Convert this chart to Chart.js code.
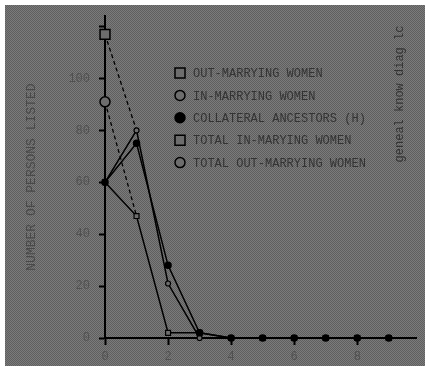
<!DOCTYPE html>
<html>
<head>
<meta charset="utf-8">
<script src="https://cdn.jsdelivr.net/npm/chart.js@4/dist/chart.umd.min.js"></script>
<style>
  html, body { margin: 0; padding: 0; background: #fff; }
  #wrap { position: relative; width: 425px; height: 366px; }
</style>
</head>
<body>
<div id="wrap"><canvas id="chart"></canvas></div>
<script>
// generations (x) and number of persons listed (y)
const generations = [0, 1, 2, 3, 4, 5, 6, 7, 8, 9];
const outMarrying = [60, 47, 2, 2, 0, 0, 0, 0, 0, 0];
const inMarrying  = [60, 80, 21, 0, 0, 0, 0, 0, 0, 0];
const collateral  = [60, 75, 28, 2, 0, 0, 0, 0, 0, 0];
const totalGenerations = [0, 1];
const totalInMarrying  = [117, 80];
const totalOutMarrying = [91, 47];
const yTickValues = [0, 20, 40, 60, 80, 100, 120];
const yTickLabels = ['0', '20', '40', '60', '80', '100', ''];
const xTickValues = [0, 2, 4, 6, 8];
const seriesNames = ['OUT-MARRYING WOMEN', 'IN-MARRYING WOMEN', 'COLLATERAL ANCESTORS (H)',
                     'TOTAL IN-MARYING WOMEN', 'TOTAL OUT-MARRYING WOMEN'];
const sideNote = 'geneal know diag lc';

const MONO = '"Liberation Mono", "DejaVu Sans Mono", monospace';
const FILL_GRAY = '#6d6d6d';

function toPoints(xs, ys) {
    return xs.map((x, i) => ({ x: x, y: ys[i] }));
}

function ditherPattern(ctx) {
    const c = document.createElement('canvas');
    c.width = 2; c.height = 2;
    const p = c.getContext('2d');
    p.fillStyle = '#7b7b7b'; p.fillRect(0, 0, 2, 2);
    p.fillStyle = '#5f5f5f'; p.fillRect(0, 0, 1, 1); p.fillRect(1, 1, 1, 1);
    return ctx.createPattern(c, 'repeat');
}

const backdrop = {
    id: 'backdrop',
    beforeDraw(chart) {
        const ctx = chart.ctx;
        ctx.save();
        ctx.fillStyle = '#ffffff';
        ctx.fillRect(0, 0, chart.width, chart.height);
        ctx.fillStyle = ditherPattern(ctx);
        ctx.fillRect(5, 5, chart.width - 5, chart.height - 5);
        ctx.restore();
    }
};

function marker(ctx, style, filled, x, y, r) {
    ctx.beginPath();
    if (style === 'rect') ctx.rect(x - r, y - r, 2 * r, 2 * r);
    else ctx.arc(x, y, r, 0, Math.PI * 2);
    ctx.fillStyle = filled ? '#000' : FILL_GRAY;
    ctx.fill();
    ctx.lineWidth = 1.5;
    ctx.strokeStyle = '#000';
    ctx.stroke();
}

const inlineLegend = {
    id: 'inlineLegend',
    afterDraw(chart) {
        const ctx = chart.ctx;
        const styles = [['rect', false], ['circle', false], ['circle', true], ['rect', false], ['circle', false]];
        ctx.save();
        ctx.font = '12px ' + MONO;
        ctx.textBaseline = 'middle';
        seriesNames.forEach((name, i) => {
            const y = 73 + i * 22.4;
            marker(ctx, styles[i][0], styles[i][1], 180, y, 5);
            ctx.fillStyle = '#333333';
            ctx.fillText(name, 193, y + 1);
        });
        // side note, rotated
        ctx.fillStyle = '#333333';
        ctx.translate(400, 94);
        ctx.rotate(-Math.PI / 2);
        ctx.textAlign = 'center';
        ctx.fillText(sideNote, 0, 0);
        ctx.restore();
    }
};

const ctx = document.getElementById('chart').getContext('2d');
new Chart(ctx, {
    type: 'line',
    data: {
        datasets: [
            {
                label: seriesNames[0],
                data: toPoints(generations, outMarrying),
                borderColor: '#000', borderWidth: 1.5,
                pointStyle: 'rect', pointRadius: 3.5,
                pointBackgroundColor: FILL_GRAY, pointBorderColor: '#000', pointBorderWidth: 1.2,
                clip: false, order: 2
            },
            {
                label: seriesNames[1],
                data: toPoints(generations, inMarrying),
                borderColor: '#000', borderWidth: 1.5,
                pointStyle: 'circle', pointRadius: 2.5,
                pointBackgroundColor: FILL_GRAY, pointBorderColor: '#000', pointBorderWidth: 1.2,
                clip: false, order: 3
            },
            {
                label: seriesNames[2],
                data: toPoints(generations, collateral),
                borderColor: '#000', borderWidth: 1.5,
                pointStyle: 'circle', pointRadius: 3,
                pointBackgroundColor: '#000', pointBorderColor: '#000',
                clip: false, order: 1
            },
            {
                label: seriesNames[3],
                data: toPoints(totalGenerations, totalInMarrying),
                borderColor: '#000', borderWidth: 1.3, borderDash: [4, 3],
                pointStyle: 'rect', pointRadius: [7, 0],
                pointBackgroundColor: FILL_GRAY, pointBorderColor: '#000', pointBorderWidth: 1.5,
                clip: false, order: 4
            },
            {
                label: seriesNames[4],
                data: toPoints(totalGenerations, totalOutMarrying),
                borderColor: '#000', borderWidth: 1.3, borderDash: [4, 3],
                pointStyle: 'circle', pointRadius: [5, 0],
                pointBackgroundColor: FILL_GRAY, pointBorderColor: '#000', pointBorderWidth: 1.5,
                clip: false, order: 5
            }
        ]
    },
    options: {
        responsive: true,
        maintainAspectRatio: false,
        animation: false,
        layout: { padding: { top: 7, left: 0, right: 0, bottom: 0 } },
        scales: {
            x: {
                type: 'linear',
                min: 0, max: 9.88,
                afterBuildTicks: (scale) => { scale.ticks = xTickValues.map(v => ({ value: v })); },
                afterFit: (scale) => { scale.height = 28; },
                ticks: {
                    color: '#505050', font: { family: MONO, size: 12 }, padding: 5,
                    maxRotation: 0, callback: (v) => String(v)
                },
                grid: { drawOnChartArea: false, drawTicks: true, tickLength: 7, tickColor: '#000', tickWidth: 2 },
                border: { display: true, color: '#000', width: 2 }
            },
            y: {
                type: 'linear',
                min: 0, max: 124,
                afterBuildTicks: (scale) => { scale.ticks = yTickValues.map(v => ({ value: v })); },
                afterFit: (scale) => { scale.width = 105; },
                ticks: {
                    color: '#505050', font: { family: MONO, size: 12 }, padding: 9,
                    callback: (v) => yTickLabels[yTickValues.indexOf(v)]
                },
                grid: { drawOnChartArea: false, drawTicks: true, tickLength: 6, tickColor: '#000', tickWidth: 2 },
                border: { display: true, color: '#000', width: 2 },
                title: {
                    display: true, text: 'NUMBER OF PERSONS LISTED',
                    color: '#484848', font: { family: MONO, size: 13 },
                    padding: { top: 24, bottom: 0 }
                }
            }
        },
        plugins: {
            legend: { display: false },
            tooltip: { enabled: false }
        }
    },
    plugins: [backdrop, inlineLegend]
});
</script>
</body>
</html>
